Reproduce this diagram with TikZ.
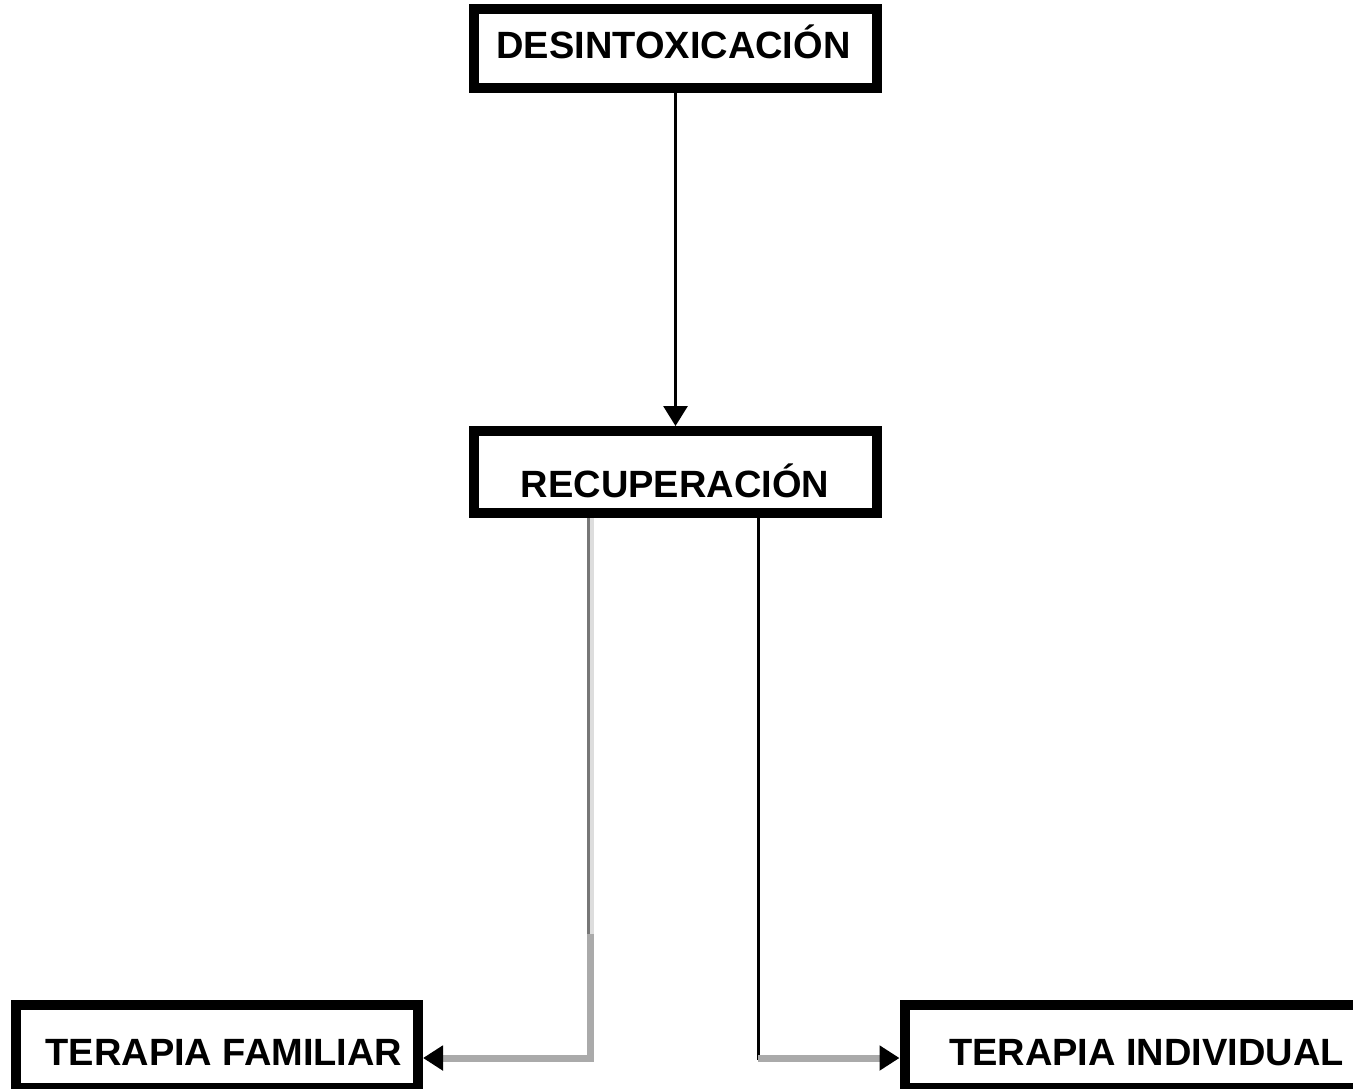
\documentclass[tikz,border=0pt]{standalone}
\usepackage{fontspec}
\setmainfont{Liberation Sans}
\usetikzlibrary{arrows.meta,calc}
\definecolor{lineDark}{HTML}{777777}
\definecolor{lineLight}{HTML}{DDDDDD}
\definecolor{lineGrey}{HTML}{AAAAAA}
\begin{document}
\begin{tikzpicture}[x=1pt,y=-1pt,
  box/.style={draw=black,line width=10pt,inner sep=0pt},
  lbl/.style={font=\fontsize{38}{40}\selectfont\bfseries,anchor=base,inner sep=0pt,text=black},
  tip/.style={-{Triangle[length=20pt,width=24pt,color=black]}},
  blk/.style={draw=black,line width=3pt},
  gry/.style={draw=lineGrey,line width=7pt}]
\useasboundingbox (0,0) rectangle (1353,1088);
\clip (0,0) rectangle (1353,1088);
\fill[white] (0,0) rectangle (1353,1088);

% boxes
\node[box,minimum width=403pt,minimum height=79pt] (des) at (675.5,48.5) {};
\node[box,minimum width=403pt,minimum height=82pt] (rec) at (675.5,472) {};
\node[box,minimum width=402pt,minimum height=83pt] (fam) at (217,1046.5) {};
\node[box,minimum width=495pt,minimum height=83pt] (ind) at (1152,1046.5) {};

% labels
\node[lbl] (tdes) at (673.5,58) {DESINTOXICACIÓN};
\node[lbl] (trec) at (675,497) {RECUPERACIÓN};
\node[lbl] (tfam) at (224,1065) {TERAPIA FAMILIAR};
\node[lbl] (tind) at (1146.5,1065) {TERAPIA INDIVIDUAL};

% connectors
\draw[blk,tip] (des.south) -- (rec.north);

\coordinate (g1) at (590.5,934);
\coordinate (g2) at (590.5,1058);
\draw[draw=lineDark,line width=3pt] ($(g1 |- rec.south)+(-2,0)$) -- ($(g1)+(-2,0)$);
\draw[draw=lineLight,line width=4pt] ($(g1 |- rec.south)+(1.5,0)$) -- ($(g1)+(1.5,0)$);
\draw[gry,tip] (g1) -- (g2) -- (fam.east |- g2);

\coordinate (b1) at (758,1058);
\draw[blk] (b1 |- rec.south) -- ($(b1)+(0,2)$);
\draw[gry,tip] (b1) -- (ind.west |- b1);
\end{tikzpicture}
\end{document}
